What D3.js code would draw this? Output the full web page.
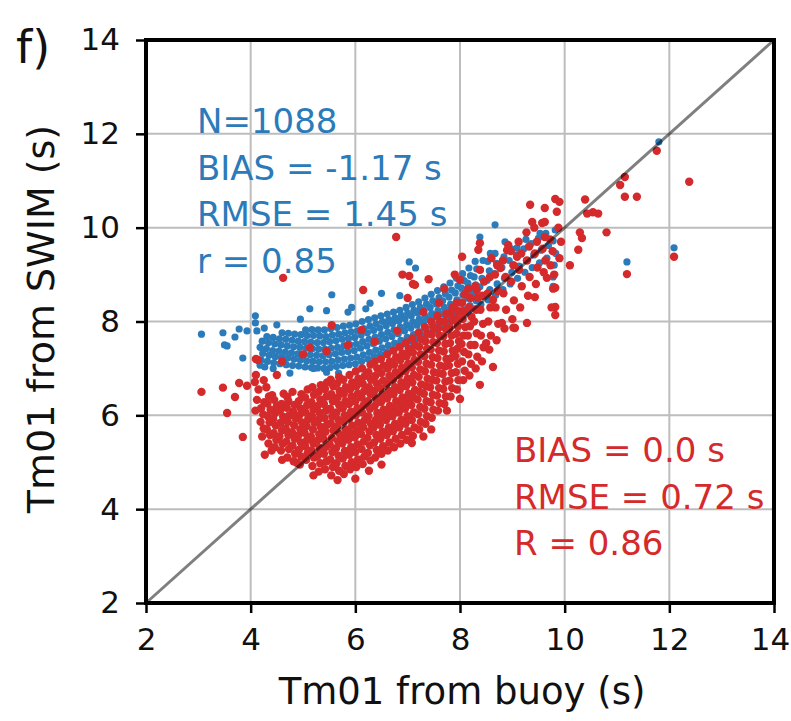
<!DOCTYPE html>
<html><head><meta charset="utf-8">
<script src="https://cdn.jsdelivr.net/npm/d3@7"></script>
<style>body{margin:0;background:#fff}svg{display:block}</style>
</head><body><svg id="c" width="791" height="721"></svg>
<script>
const xTicks=[2,4,6,8,10,12,14];
const yTicks=[2,4,6,8,10,12,14];
const domainRange=[2,14];
const xLabel="Tm01 from buoy (s)";
const yLabel="Tm01 from SWIM (s)";
const panelLabel="f)";
const blueStats=["N=1088","BIAS = -1.17 s","RMSE = 1.45 s","r = 0.85"];
const redStats=["BIAS = 0.0 s","RMSE = 0.72 s","R = 0.86"];

// SWIM original (blue): [buoy Tm01, SWIM Tm01]
const swimOriginal=[
[3.06,7.73],[3.47,7.76],[3.55,7.48],[3.70,7.67],[3.78,7.84],[3.93,7.80],[3.85,7.22],[4.09,8.12],[4.09,7.97],[4.12,7.80],[4.26,7.86],[4.27,7.03],[3.50,7.50],[4.50,7.93],
[5.13,8.27],[5.45,8.23],[5.55,8.57],[5.86,8.20],[5.93,8.30],[6.20,8.27],[6.28,8.39],[6.50,8.60],[7.03,9.27],[7.15,9.14],[8.67,10.06],[8.38,9.80],[8.86,9.70],[9.09,9.57],
[9.53,9.88],[9.78,8.95],[9.78,8.75],[11.19,9.27],[12.09,9.57],[11.80,11.83],[4.18,7.07],[4.43,7.00],[4.75,6.90],[5.20,7.00],[5.45,6.92],[5.68,6.90],[4.95,8.05],[6.85,8.55],
[4.20,7.18],[4.23,7.32],[4.18,7.45],[4.22,7.58],
[4.32,7.15],[4.35,7.28],[4.30,7.42],[4.34,7.55],[4.31,7.68],
[4.44,7.12],[4.47,7.25],[4.42,7.38],[4.46,7.52],[4.43,7.66],
[4.56,7.10],[4.59,7.24],[4.54,7.37],[4.58,7.50],[4.55,7.63],[4.60,7.76],
[4.68,7.08],[4.71,7.22],[4.66,7.35],[4.70,7.48],[4.67,7.62],[4.72,7.75],
[4.80,7.06],[4.83,7.20],[4.78,7.33],[4.82,7.46],[4.79,7.60],[4.84,7.73],
[4.92,7.05],[4.95,7.18],[4.90,7.31],[4.94,7.45],[4.91,7.58],[4.96,7.72],
[5.04,7.03],[5.07,7.16],[5.02,7.30],[5.06,7.43],[5.03,7.57],[5.08,7.70],[5.05,7.82],
[5.16,7.02],[5.19,7.15],[5.14,7.29],[5.18,7.42],[5.15,7.56],[5.20,7.70],[5.17,7.83],
[5.28,7.01],[5.31,7.14],[5.26,7.28],[5.30,7.41],[5.27,7.55],[5.32,7.69],[5.29,7.82],
[5.40,7.00],[5.43,7.14],[5.38,7.27],[5.42,7.41],[5.39,7.55],[5.44,7.68],[5.41,7.82],
[5.52,7.02],[5.55,7.15],[5.50,7.29],[5.54,7.43],[5.51,7.57],[5.56,7.71],[5.53,7.85],
[5.64,7.04],[5.67,7.18],[5.62,7.31],[5.66,7.45],[5.63,7.59],[5.68,7.73],[5.65,7.87],
[5.76,7.06],[5.79,7.20],[5.74,7.34],[5.78,7.48],[5.75,7.62],[5.80,7.76],[5.77,7.90],
[5.88,7.08],[5.91,7.22],[5.86,7.36],[5.90,7.50],[5.87,7.64],[5.92,7.78],[5.89,7.92],
[6.00,7.10],[6.03,7.24],[5.98,7.38],[6.02,7.52],[5.99,7.66],[6.04,7.80],[6.01,7.95],
[6.12,7.15],[6.15,7.29],[6.10,7.43],[6.14,7.57],[6.11,7.71],[6.16,7.85],[6.13,8.00],
[6.24,7.20],[6.27,7.34],[6.22,7.48],[6.26,7.62],[6.23,7.76],[6.28,7.90],[6.25,8.04],
[6.36,7.25],[6.39,7.39],[6.34,7.53],[6.38,7.67],[6.35,7.81],[6.40,7.95],[6.37,8.08],
[6.48,7.30],[6.51,7.44],[6.46,7.58],[6.50,7.72],[6.47,7.86],[6.52,8.00],[6.49,8.12],
[6.60,7.35],[6.63,7.49],[6.58,7.63],[6.62,7.77],[6.59,7.91],[6.64,8.04],[6.61,8.16],
[6.72,7.40],[6.75,7.54],[6.70,7.68],[6.74,7.82],[6.71,7.96],[6.76,8.08],[6.73,8.20],
[6.84,7.46],[6.87,7.60],[6.82,7.74],[6.86,7.88],[6.83,8.01],[6.88,8.13],[6.85,8.24],
[6.96,7.52],[6.99,7.66],[6.94,7.80],[6.98,7.93],[6.95,8.06],[7.00,8.18],[6.97,8.30],
[7.08,7.58],[7.11,7.72],[7.06,7.86],[7.10,7.99],[7.07,8.12],[7.12,8.24],[7.09,8.36],
[7.20,7.64],[7.23,7.78],[7.18,7.92],[7.22,8.05],[7.19,8.18],[7.24,8.30],[7.21,8.42],
[7.32,7.70],[7.35,7.84],[7.30,7.98],[7.34,8.11],[7.31,8.24],[7.36,8.37],[7.33,8.50],
[7.44,7.76],[7.47,7.90],[7.42,8.04],[7.46,8.17],[7.43,8.30],[7.48,8.44],[7.45,8.58],
[7.56,7.82],[7.59,7.96],[7.54,8.10],[7.58,8.23],[7.55,8.37],[7.60,8.51],[7.57,8.66],
[7.68,7.88],[7.71,8.02],[7.66,8.16],[7.70,8.30],[7.67,8.44],[7.72,8.59],[7.69,8.74],
[7.80,7.95],[7.83,8.09],[7.78,8.23],[7.82,8.37],[7.79,8.52],[7.84,8.67],[7.81,8.82],
[7.92,8.02],[7.95,8.17],[7.90,8.31],[7.94,8.46],[7.91,8.61],[7.96,8.76],[7.93,8.92],
[8.04,8.10],[8.07,8.25],[8.02,8.40],[8.06,8.56],[8.03,8.71],[8.08,8.87],[8.05,9.02],
[8.16,8.18],[8.19,8.34],[8.14,8.50],[8.18,8.66],[8.15,8.82],[8.20,8.98],[8.17,9.14],
[8.28,8.27],[8.31,8.44],[8.26,8.61],[8.30,8.78],[8.27,8.95],[8.32,9.12],[8.29,9.28],
[8.40,8.36],[8.43,8.55],[8.38,8.74],[8.42,8.92],[8.39,9.10],[8.44,9.30],
[8.54,8.46],[8.57,8.68],[8.52,8.88],[8.56,9.08],[8.53,9.28],[8.58,9.45],
[8.68,8.56],[8.71,8.80],[8.66,9.02],[8.70,9.24],[8.67,9.45],
[8.82,8.68],[8.85,8.92],[8.80,9.15],[8.84,9.38],
[8.96,8.80],[8.99,9.05],[8.94,9.30],[8.98,9.55],
[9.10,8.92],[9.13,9.18],[9.08,9.42],
[9.24,9.05],[9.27,9.30],[9.22,9.55],[9.26,9.75],
[9.38,9.15],[9.41,9.42],[9.36,9.66],
[9.52,9.25],[9.55,9.52],[9.50,9.78],
[9.66,9.35],[9.69,9.62],[9.64,9.88],
[9.80,9.20],[9.83,9.45],[9.78,9.72],[9.82,9.95]
];

// SWIM corrected (red): [buoy Tm01, SWIM Tm01]
const swimCorrected=[
[3.06,6.50],[3.47,6.59],[3.55,6.05],[3.70,6.39],[3.78,6.69],[3.93,6.63],[3.85,5.54],[4.08,6.71],[4.10,7.20],[4.10,6.86],[4.12,6.33],[4.09,6.10],[4.25,6.75],[4.50,6.86],
[4.41,6.43],[4.70,6.39],[4.27,5.16],[4.62,8.93],[6.15,8.67],[6.78,9.80],[7.03,8.97],[7.10,8.80],[4.15,6.55],[4.30,6.60],
[5.55,7.92],[6.12,7.82],[6.37,7.57],[5.13,7.44],[5.45,7.37],[5.86,7.50],[7.14,8.78],[4.14,7.18],[4.60,7.15],[5.00,7.30],[6.80,7.80],[7.30,8.20],[7.60,8.40],[7.00,8.50],
[7.40,8.90],[7.70,8.70],[7.90,9.00],[6.90,9.00],
[8.38,9.67],[8.35,9.53],[8.60,9.35],[8.92,9.63],[9.09,9.38],[8.77,9.14],[8.38,9.10],[8.00,8.89],[8.32,8.67],[8.63,8.46],[8.04,9.38],[8.90,9.52],
[9.34,10.49],[9.62,10.42],[9.82,10.61],[9.90,10.55],[9.85,10.34],[9.38,10.12],[9.62,10.12],[10.39,10.60],[10.43,10.30],[10.54,10.33],[10.64,10.30],[10.80,9.90],
[10.29,9.90],[10.33,9.78],[10.26,9.53],[10.10,9.20],[9.80,9.00],[9.66,8.93],[9.82,8.72],[9.82,8.31],[9.82,8.14],[9.43,8.52],[9.28,7.97],[9.05,7.86],
[11.15,11.08],[11.06,10.91],[11.38,10.66],[11.15,10.66],[12.38,10.98],[11.76,11.64],[12.09,9.38],[11.19,9.01],
[4.88,4.99],[7.08,5.41],[7.45,5.70],[7.75,6.10],[8.00,6.35],[8.38,6.65],[8.63,7.03],[8.50,7.54],[8.80,7.97],[9.02,7.87],[6.50,4.95],[6.00,4.65],[5.20,4.72],[4.60,5.05],[4.40,5.25],[7.30,5.55],
[4.22,5.55],[4.25,5.72],[4.19,5.86],[4.24,6.02],[4.20,6.15],[4.26,6.28],
[4.34,5.40],[4.37,5.58],[4.31,5.70],[4.36,5.85],[4.33,5.98],[4.38,6.12],[4.32,6.25],[4.35,6.40],
[4.46,5.32],[4.49,5.48],[4.44,5.62],[4.48,5.78],[4.43,5.92],[4.47,6.05],[4.50,6.20],[4.45,6.33],
[4.58,5.25],[4.61,5.40],[4.55,5.55],[4.60,5.68],[4.57,5.84],[4.62,5.97],[4.56,6.10],[4.59,6.24],[4.63,6.46],
[4.70,5.10],[4.73,5.28],[4.68,5.44],[4.72,5.58],[4.67,5.72],[4.71,5.86],[4.74,6.00],[4.69,6.16],[4.72,6.30],
[4.82,5.02],[4.85,5.18],[4.80,5.35],[4.84,5.50],[4.79,5.64],[4.83,5.79],[4.86,5.93],[4.81,6.08],[4.84,6.22],[4.80,6.50],
[4.94,4.95],[4.97,5.12],[4.92,5.26],[4.96,5.42],[4.91,5.57],[4.95,5.70],[4.98,5.85],[4.93,6.00],[4.96,6.14],[4.92,6.30],[4.97,6.45],
[5.06,5.05],[5.09,5.20],[5.04,5.34],[5.08,5.48],[5.03,5.63],[5.07,5.77],[5.10,5.92],[5.05,6.06],[5.08,6.22],[5.04,6.38],[5.09,6.55],
[5.18,4.92],[5.21,5.10],[5.16,5.25],[5.20,5.40],[5.15,5.55],[5.19,5.70],[5.22,5.84],[5.17,5.99],[5.20,6.13],[5.16,6.28],[5.21,6.44],[5.18,6.60],
[5.30,4.80],[5.33,4.98],[5.28,5.14],[5.32,5.30],[5.27,5.46],[5.31,5.60],[5.34,5.75],[5.29,5.90],[5.32,6.05],[5.28,6.20],[5.33,6.34],[5.30,6.50],[5.34,6.64],
[5.42,4.85],[5.45,5.02],[5.40,5.18],[5.44,5.33],[5.39,5.50],[5.43,5.65],[5.46,5.80],[5.41,5.94],[5.44,6.10],[5.40,6.24],[5.45,6.40],[5.42,6.56],[5.46,6.70],
[5.54,4.72],[5.57,4.90],[5.52,5.06],[5.56,5.22],[5.51,5.38],[5.55,5.52],[5.58,5.68],[5.53,5.83],[5.56,5.98],[5.52,6.14],[5.57,6.30],[5.54,6.45],[5.58,6.62],[5.53,6.76],
[5.66,4.62],[5.69,4.82],[5.64,4.98],[5.68,5.14],[5.63,5.30],[5.67,5.45],[5.70,5.60],[5.65,5.76],[5.68,5.90],[5.64,6.06],[5.69,6.22],[5.66,6.38],[5.70,6.52],[5.65,6.68],[5.69,6.82],
[5.78,4.75],[5.81,4.92],[5.76,5.08],[5.80,5.24],[5.75,5.40],[5.79,5.55],[5.82,5.70],[5.77,5.86],[5.80,6.00],[5.76,6.15],[5.81,6.30],[5.78,6.46],[5.82,6.60],[5.77,6.76],
[5.90,4.85],[5.93,5.00],[5.88,5.16],[5.92,5.32],[5.87,5.48],[5.91,5.62],[5.94,5.78],[5.89,5.93],[5.92,6.08],[5.88,6.24],[5.93,6.40],[5.90,6.55],[5.94,6.70],[5.89,6.86],
[6.02,4.90],[6.05,5.06],[6.00,5.22],[6.04,5.38],[5.99,5.53],[6.03,5.68],[6.06,5.84],[6.01,6.00],[6.04,6.15],[6.00,6.30],[6.05,6.46],[6.02,6.62],[6.06,6.78],[6.01,6.94],
[6.14,4.96],[6.17,5.12],[6.12,5.28],[6.16,5.44],[6.11,5.60],[6.15,5.75],[6.18,5.90],[6.13,6.06],[6.16,6.22],[6.12,6.38],[6.17,6.52],[6.14,6.68],[6.18,6.84],[6.13,7.00],
[6.26,4.82],[6.29,5.04],[6.24,5.20],[6.28,5.36],[6.23,5.52],[6.27,5.66],[6.30,5.82],[6.25,5.98],[6.28,6.14],[6.24,6.30],[6.29,6.45],[6.26,6.60],[6.30,6.76],[6.25,6.92],[6.29,7.08],
[6.38,5.10],[6.41,5.26],[6.36,5.42],[6.40,5.58],[6.35,5.74],[6.39,5.90],[6.42,6.05],[6.37,6.20],[6.40,6.36],[6.36,6.52],[6.41,6.68],[6.38,6.84],[6.42,7.00],[6.37,7.14],
[6.50,5.18],[6.53,5.34],[6.48,5.50],[6.52,5.65],[6.47,5.80],[6.51,5.96],[6.54,6.12],[6.49,6.28],[6.52,6.44],[6.48,6.58],[6.53,6.74],[6.50,6.90],[6.54,7.06],[6.49,7.20],
[6.62,5.25],[6.65,5.42],[6.60,5.58],[6.64,5.74],[6.59,5.90],[6.63,6.05],[6.66,6.20],[6.61,6.36],[6.64,6.52],[6.60,6.68],[6.65,6.84],[6.62,7.00],[6.66,7.15],[6.61,7.30],
[6.74,5.32],[6.77,5.50],[6.72,5.66],[6.76,5.82],[6.71,5.98],[6.75,6.14],[6.78,6.30],[6.73,6.45],[6.76,6.60],[6.72,6.76],[6.77,6.92],[6.74,7.08],[6.78,7.24],[6.73,7.38],
[6.86,5.40],[6.89,5.58],[6.84,5.74],[6.88,5.90],[6.83,6.06],[6.87,6.22],[6.90,6.38],[6.85,6.54],[6.88,6.70],[6.84,6.86],[6.89,7.02],[6.86,7.18],[6.90,7.32],[6.85,7.46],
[6.98,5.48],[7.01,5.66],[6.96,5.82],[7.00,5.98],[6.95,6.14],[6.99,6.30],[7.02,6.46],[6.97,6.62],[7.00,6.78],[6.96,6.94],[7.01,7.10],[6.98,7.26],[7.02,7.42],[6.97,7.55],
[7.10,5.56],[7.13,5.74],[7.08,5.90],[7.12,6.06],[7.07,6.22],[7.11,6.38],[7.14,6.54],[7.09,6.70],[7.12,6.86],[7.08,7.02],[7.13,7.18],[7.10,7.34],[7.14,7.50],[7.09,7.64],
[7.22,5.70],[7.25,5.86],[7.20,6.02],[7.24,6.18],[7.19,6.34],[7.23,6.50],[7.26,6.66],[7.21,6.82],[7.24,6.98],[7.20,7.14],[7.25,7.30],[7.22,7.46],[7.26,7.62],[7.21,7.76],
[7.34,5.82],[7.37,5.98],[7.32,6.14],[7.36,6.30],[7.31,6.46],[7.35,6.62],[7.38,6.78],[7.33,6.94],[7.36,7.10],[7.32,7.26],[7.37,7.42],[7.34,7.58],[7.38,7.74],[7.33,7.88],
[7.46,5.95],[7.49,6.12],[7.44,6.28],[7.48,6.44],[7.43,6.60],[7.47,6.76],[7.50,6.92],[7.45,7.08],[7.48,7.24],[7.44,7.40],[7.49,7.56],[7.46,7.72],[7.50,7.86],[7.45,8.00],
[7.58,6.10],[7.61,6.26],[7.56,6.42],[7.60,6.58],[7.55,6.74],[7.59,6.90],[7.62,7.06],[7.57,7.22],[7.60,7.38],[7.56,7.54],[7.61,7.70],[7.58,7.85],[7.62,8.00],[7.57,8.12],
[7.70,6.24],[7.73,6.40],[7.68,6.56],[7.72,6.72],[7.67,6.88],[7.71,7.04],[7.74,7.20],[7.69,7.36],[7.72,7.52],[7.68,7.68],[7.73,7.84],[7.70,8.00],[7.74,8.16],
[7.82,6.40],[7.85,6.58],[7.80,6.74],[7.84,6.90],[7.79,7.06],[7.83,7.22],[7.86,7.38],[7.81,7.54],[7.84,7.70],[7.80,7.86],[7.85,8.02],[7.82,8.18],[7.86,8.30],
[7.94,6.55],[7.97,6.75],[7.92,6.92],[7.96,7.10],[7.91,7.26],[7.95,7.42],[7.98,7.58],[7.93,7.74],[7.96,7.90],[7.92,8.06],[7.97,8.22],[7.94,8.40],
[8.06,6.75],[8.09,6.95],[8.04,7.15],[8.08,7.35],[8.03,7.52],[8.07,7.70],[8.10,7.88],[8.05,8.05],[8.08,8.22],[8.04,8.40],[8.09,8.58],
[8.18,6.85],[8.21,7.10],[8.16,7.30],[8.20,7.50],[8.15,7.70],[8.19,7.90],[8.22,8.10],[8.17,8.30],[8.20,8.50],[8.16,8.70],
[8.30,7.00],[8.33,7.25],[8.28,7.50],[8.32,7.75],[8.27,8.00],[8.31,8.25],[8.34,8.50],[8.29,8.75],
[8.42,7.15],[8.45,7.45],[8.40,7.70],[8.44,7.95],[8.39,8.25],[8.43,8.55],[8.46,8.85],
[8.56,7.40],[8.59,7.70],[8.54,8.00],[8.58,8.30],[8.53,8.60],[8.57,8.95],
[8.70,7.60],[8.73,7.95],[8.68,8.30],[8.72,8.65],[8.67,9.00],[8.71,9.20],
[8.85,7.85],[8.88,8.25],[8.83,8.60],[8.87,8.95],[8.82,9.30],
[9.00,8.05],[9.03,8.45],[8.98,8.85],[9.02,9.20],[8.97,9.50],
[9.15,8.30],[9.18,8.75],[9.13,9.10],[9.17,9.45],[9.12,9.70],
[9.30,8.55],[9.33,8.95],[9.28,9.30],[9.32,9.60],[9.27,9.90],
[9.45,8.80],[9.48,9.15],[9.43,9.45],[9.47,9.70],[9.42,10.00],
[9.60,9.05],[9.63,9.30],[9.58,9.55],[9.62,9.80],[9.57,10.10],
[9.75,8.30],[9.78,8.70],[9.73,9.20],[9.77,9.50],[9.72,9.75],
[9.90,9.35],[9.93,9.70],[9.88,10.00]
];

const W=791,H=721;
const m={l:146,r:17,t:40,b:118};
const svg=d3.select("#c");
const x=d3.scaleLinear().domain(domainRange).range([m.l,W-m.r]);
const y=d3.scaleLinear().domain(domainRange).range([H-m.b,m.t]);
const FONT="DejaVu Sans";
const blueC="#2b7bba", redC="#d52a2c";

// grid
svg.append("g").selectAll("line").data(xTicks.slice(1,-1)).join("line")
  .attr("x1",d=>x(d)).attr("x2",d=>x(d)).attr("y1",y(2)).attr("y2",y(14))
  .attr("stroke","#bdbdbd").attr("stroke-width",2);
svg.append("g").selectAll("line").data(yTicks.slice(1,-1)).join("line")
  .attr("y1",d=>y(d)).attr("y2",d=>y(d)).attr("x1",x(2)).attr("x2",x(14))
  .attr("stroke","#bdbdbd").attr("stroke-width",2);

// points
svg.append("g").selectAll("circle").data(swimOriginal).join("circle")
  .attr("cx",d=>x(d[0])).attr("cy",d=>y(d[1])).attr("r",3.6).attr("fill",blueC);
svg.append("g").selectAll("circle").data(swimCorrected).join("circle")
  .attr("cx",d=>x(d[0])).attr("cy",d=>y(d[1])).attr("r",4.2).attr("fill",redC);

// 1:1 line
svg.append("line").attr("x1",x(domainRange[0])).attr("y1",y(domainRange[0]))
  .attr("x2",x(domainRange[1])).attr("y2",y(domainRange[1]))
  .attr("stroke","rgba(0,0,0,0.5)").attr("stroke-width",3);

// axes
const xa=svg.append("g").attr("transform",`translate(0,${y(2)})`)
  .call(d3.axisBottom(x).tickValues(xTicks).tickSize(10).tickPadding(15).tickFormat(d3.format("d")));
const ya=svg.append("g").attr("transform",`translate(${x(2)},0)`)
  .call(d3.axisLeft(y).tickValues(yTicks).tickSize(10).tickPadding(16).tickFormat(d3.format("d")));
[xa,ya].forEach(g=>{
  g.select(".domain").remove();
  g.selectAll(".tick line").attr("stroke","#000").attr("stroke-width",2.5);
  g.selectAll(".tick text").attr("font-family",FONT).attr("font-size",31).attr("fill","#111");
});
xa.selectAll(".tick text").filter(d=>d===14).attr("dx",-4);

// frame
svg.append("rect").attr("x",x(2)).attr("y",y(14)).attr("width",x(14)-x(2)).attr("height",y(2)-y(14))
  .attr("fill","none").attr("stroke","#000").attr("stroke-width",4);

// titles
svg.append("text").attr("x",(x(2)+x(14))/2+2).attr("y",704).attr("text-anchor","middle")
  .attr("font-family",FONT).attr("font-size",37).attr("fill","#111").text(xLabel);
svg.append("text").attr("transform",`translate(54,${319}) rotate(-90)`).attr("text-anchor","middle")
  .attr("font-family",FONT).attr("font-size",38).attr("fill","#111").text(yLabel);
svg.append("text").attr("x",16).attr("y",63).attr("font-family",FONT).attr("font-size",46)
  .attr("fill","#111").text(panelLabel);

// stats
svg.append("g").selectAll("text").data(blueStats).join("text")
  .attr("x",197).attr("y",(d,i)=>133+i*46.5).attr("font-family",FONT).attr("font-size",34)
  .attr("fill",blueC).text(d=>d);
svg.append("g").selectAll("text").data(redStats).join("text")
  .attr("x",514).attr("y",(d,i)=>462+i*46.5).attr("font-family",FONT).attr("font-size",34)
  .attr("fill",redC).text(d=>d);
</script></body></html>
